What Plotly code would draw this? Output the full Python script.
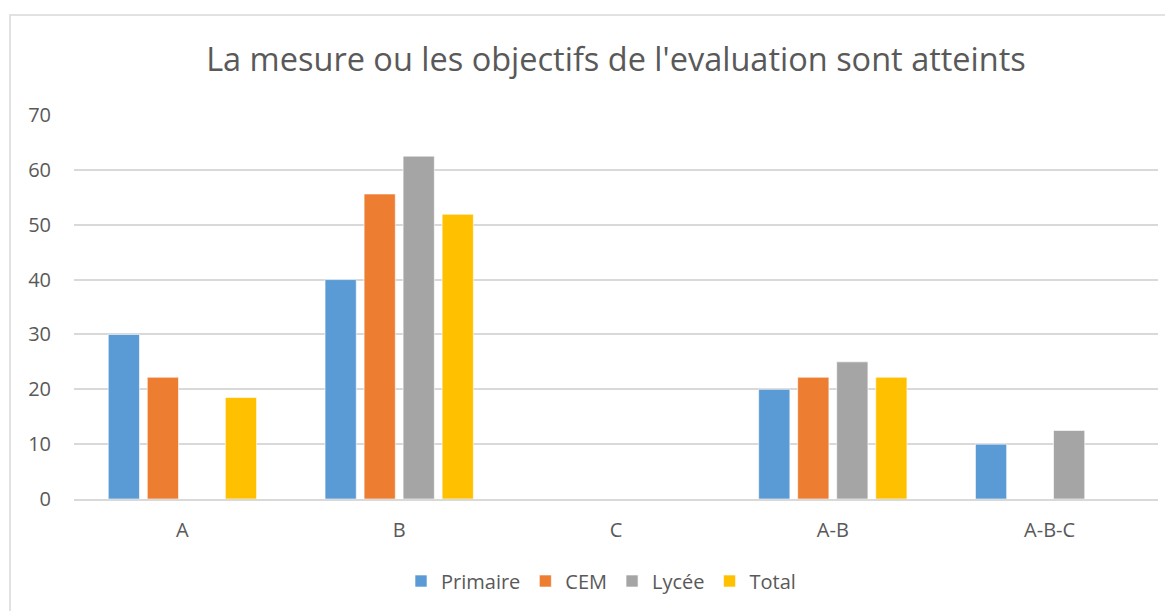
import plotly.graph_objects as go

categories = ["A", "B", "C", "A-B", "A-B-C"]
primaire = [30, 40, 0, 20, 10]
cem = [22.2, 55.6, 0, 22.2, 0]
lycee = [0, 62.5, 0, 25, 12.5]
total = [18.5, 51.9, 0, 22.2, 0]

series = [("Primaire", primaire, "#5B9BD5"), ("CEM", cem, "#ED7D31"),
          ("Lycée", lycee, "#A5A5A5"), ("Total", total, "#FFC000")]

fig = go.Figure()
for name, vals, col in series:
    fig.add_trace(go.Bar(x=categories, y=vals, name=name, marker_color=col,
                         marker_line=dict(color="rgba(255,255,255,0.6)", width=1)))

font = "Open Sans, Liberation Sans, sans-serif"
# page body has an 8px margin, so offsets are compensated
L, T, R, B = 66, 107, 23, 120
ph = 611 - T - B
pw = 1173 - L - R
fig.update_layout(
    width=1173, height=611,
    margin=dict(l=L, r=R, t=T, b=B),
    paper_bgcolor="white", plot_bgcolor="white",
    barmode="group", bargap=0.28, bargroupgap=0.2,
    font=dict(family=font, color="#595959", size=20),
    title=dict(text="La mesure ou les objectifs de l'evaluation sont atteints",
               x=(L + pw / 2) / 1173, xanchor="center", y=1 - 52 / 611, yanchor="middle",
               font=dict(size=32.5, color="#595959", family=font)),
    xaxis=dict(showgrid=False, showline=True, linecolor="#D9D9D9", linewidth=1.5,
               ticks="", ticklabelstandoff=12, tickfont=dict(size=20, color="#595959")),
    yaxis=dict(range=[0, 70], dtick=10, showgrid=True, gridcolor="#D9D9D9",
               gridwidth=1.5, zeroline=False, ticks="", ticklabelstandoff=22,
               tickfont=dict(size=20, color="#595959")),
    legend=dict(orientation="h", x=0.5 - 15 / pw, xanchor="center", y=(ph - (573 - T)) / ph,
                yanchor="middle", font=dict(size=20, color="#595959"),
                itemwidth=30, traceorder="normal"),
    shapes=[dict(type="rect", xref="paper", yref="paper",
                 x0=(2 - L) / pw, x1=(1170 - L) / pw,
                 y0=(ph - (620 - T)) / ph, y1=(ph - (7 - T)) / ph,
                 line=dict(color="#D9D9D9", width=1.5), fillcolor="rgba(0,0,0,0)")],
)
fig.write_html("out.html")
